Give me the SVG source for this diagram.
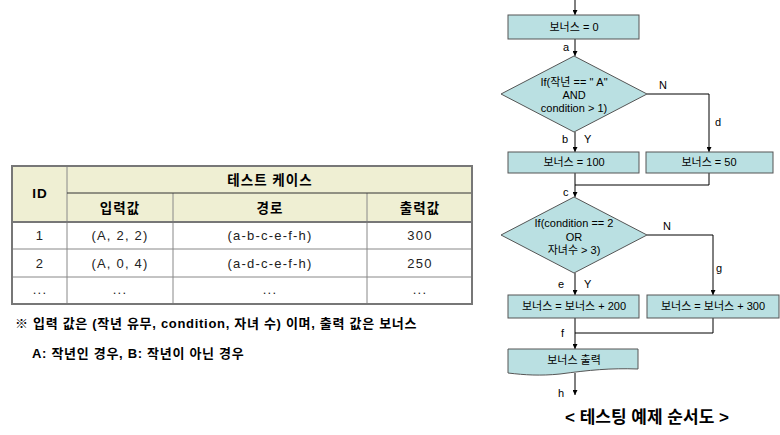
<svg xmlns="http://www.w3.org/2000/svg" width="780" height="435" viewBox="0 0 780 435">
<defs>
<marker id="arr" viewBox="0 0 10 10" refX="10" refY="5" markerWidth="5" markerHeight="5" orient="auto" markerUnits="userSpaceOnUse">
<path d="M0,0 L10,5 L0,10 z" fill="#000"/>
</marker>
<style>
text{font-family:'Liberation Sans','Noto Sans CJK KR',sans-serif;}
.n{fill:#BAE0E2;stroke:#555;stroke-width:1;}
.t{font-size:11px;text-anchor:middle;fill:#000;}
.l{font-size:11px;fill:#000;}
.c{fill:none;stroke:#000;stroke-width:1;}
.hd{fill:#EFEFD3;}
.th{font-size:13.5px;font-weight:bold;text-anchor:middle;fill:#000;letter-spacing:1px;}
.td{font-size:13px;text-anchor:middle;fill:#222;letter-spacing:1.2px;}
.g{stroke:#888;stroke-width:1;fill:none;}
.note{font-size:13px;font-weight:bold;fill:#000;letter-spacing:0.7px;}
</style>
</defs>
<rect width="780" height="435" fill="#fff"/>

<g id="table">
<rect class="hd" x="12" y="166" width="460" height="56"/>
<line class="g" x1="67" y1="166" x2="67" y2="304"/>
<line class="g" x1="173" y1="193" x2="173" y2="304"/>
<line class="g" x1="367" y1="193" x2="367" y2="304"/>
<line x1="67" y1="193" x2="472" y2="193" stroke="#333" stroke-width="1"/>
<line x1="12" y1="222" x2="472" y2="222" stroke="#777" stroke-width="2"/>
<line class="g" x1="12" y1="249" x2="472" y2="249"/>
<line class="g" x1="12" y1="277" x2="472" y2="277"/>
<rect x="12" y="166" width="460" height="138" fill="none" stroke="#777" stroke-width="2"/>
<text class="th" x="40" y="198" font-family="'Liberation Serif',serif">ID</text>
<text class="th" x="270" y="185">테스트 케이스</text>
<text class="th" x="120" y="213">입력값</text>
<text class="th" x="270" y="213">경로</text>
<text class="th" x="420" y="213">출력값</text>
<text class="td" x="40" y="240">1</text>
<text class="td" x="120" y="240">(A, 2, 2)</text>
<text class="td" x="270" y="240">(a-b-c-e-f-h)</text>
<text class="td" x="420" y="240">300</text>
<text class="td" x="40" y="268">2</text>
<text class="td" x="120" y="268">(A, 0, 4)</text>
<text class="td" x="270" y="268">(a-d-c-e-f-h)</text>
<text class="td" x="420" y="268">250</text>
<text class="td" x="40" y="294">...</text>
<text class="td" x="120" y="294">...</text>
<text class="td" x="270" y="294">...</text>
<text class="td" x="420" y="294">...</text>
</g>
<g id="notes">
<text class="note" x="15" y="328">※ 입력 값은 (작년 유무, condition, 자녀 수) 이며, 출력 값은 보너스</text>
<text class="note" x="32" y="358">A: 작년인 경우, B: 작년이 아닌 경우</text>
</g>

<g id="connectors">
<line class="c" x1="575" y1="0" x2="575" y2="15" marker-end="url(#arr)"/>
<line class="c" x1="575" y1="39" x2="575" y2="56" marker-end="url(#arr)"/>
<line class="c" x1="575" y1="132" x2="575" y2="152" marker-end="url(#arr)"/>
<polyline class="c" points="647,94 709,94 709,152" marker-end="url(#arr)"/>
<line class="c" x1="575" y1="173" x2="575" y2="197" marker-end="url(#arr)"/>
<polyline class="c" points="709,173 709,185 575,185"/>
<line class="c" x1="575" y1="273" x2="575" y2="295" marker-end="url(#arr)"/>
<polyline class="c" points="647,235 713,235 713,295" marker-end="url(#arr)"/>
<line class="c" x1="575" y1="318" x2="575" y2="349" marker-end="url(#arr)"/>
<polyline class="c" points="713,318 713,333 575,333"/>
<line class="c" x1="575" y1="373" x2="575" y2="395" marker-end="url(#arr)"/>
<text class="l" x="563" y="51">a</text>
<text class="l" x="562" y="143">b</text>
<text class="l" x="584" y="143">Y</text>
<text class="l" x="659" y="89">N</text>
<text class="l" x="715" y="126">d</text>
<text class="l" x="563" y="196">c</text>
<text class="l" x="558" y="288">e</text>
<text class="l" x="584" y="288">Y</text>
<text class="l" x="663" y="230">N</text>
<text class="l" x="716" y="272">g</text>
<text class="l" x="561" y="337">f</text>
<text class="l" x="558" y="397">h</text>
</g>

<g id="start">
<rect class="n" x="508" y="15" width="131" height="24"/>
<text class="t" x="574" y="31">보너스 = 0</text>
</g>
<g id="cond1">
<polygon class="n" points="574,56 647,94 574,132 501,94"/>
<text class="t" x="574" y="86">If(작년 == " A"</text>
<text class="t" x="574" y="99">AND</text>
<text class="t" x="574" y="112">condition &gt; 1)</text>
</g>
<g id="b100">
<rect class="n" x="508" y="152" width="131" height="21"/>
<text class="t" x="574" y="166">보너스 = 100</text>
</g>
<g id="b50">
<rect class="n" x="646" y="152" width="127" height="21"/>
<text class="t" x="709" y="166">보너스 = 50</text>
</g>
<g id="cond2">
<polygon class="n" points="574,197 647,235 574,273 501,235"/>
<text class="t" x="574" y="227">If(condition == 2</text>
<text class="t" x="574" y="241">OR</text>
<text class="t" x="574" y="254">자녀수 &gt; 3)</text>
</g>
<g id="b200">
<rect class="n" x="508" y="295" width="131" height="23"/>
<text class="t" x="574" y="310">보너스 = 보너스 + 200</text>
</g>
<g id="b300">
<rect class="n" x="647" y="295" width="132" height="23"/>
<text class="t" x="713" y="310">보너스 = 보너스 + 300</text>
</g>
<g id="output">
<path class="n" d="M508,349 H638 V369 C610,368 590,370 560,374 C540,376 525,375 508,373 Z"/>
<text class="t" x="574" y="364">보너스 출력</text>
</g>
<g id="caption">
<text x="647" y="423" font-size="17" font-weight="bold" text-anchor="middle" fill="#000">&lt; 테스팅 예제 순서도 &gt;</text>
</g>
</svg>
